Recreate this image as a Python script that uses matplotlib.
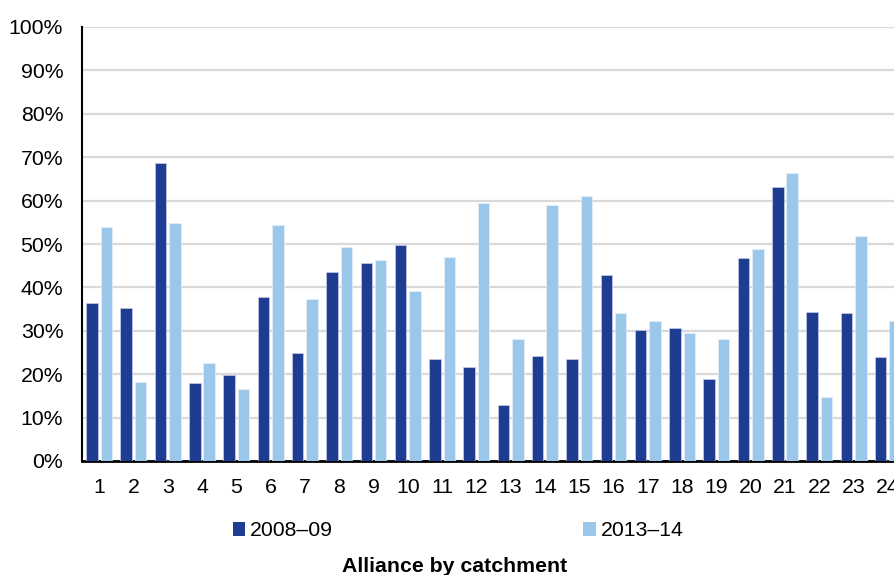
import numpy as np
import matplotlib.pyplot as plt
from matplotlib.patches import Patch

plt.rcParams['font.family'] = ['Liberation Sans', 'DejaVu Sans']

# Share of alliance by catchment, two periods
catchments = [str(i) for i in range(1, 25)]
share_0809 = [36.4, 35.3, 68.6, 17.9, 19.8, 37.8, 24.9, 43.5, 45.6, 49.7, 23.4, 21.7,
              13.0, 24.3, 23.5, 42.8, 30.2, 30.6, 19.0, 46.7, 63.1, 34.3, 34.0, 24.0]
share_1314 = [54.0, 18.2, 54.8, 22.5, 16.7, 54.3, 37.4, 49.3, 46.2, 39.2, 47.0, 59.5,
              28.1, 58.9, 61.1, 34.0, 32.3, 29.6, 28.0, 48.8, 66.3, 14.8, 51.8, 32.2]
series_labels = ['2008\u201309', '2013\u201314']

dark = '#1F3C93'
light = '#9BC8EA'
fs = 15.3

fig = plt.figure(figsize=(8.94, 5.75), dpi=100)
ax = fig.add_axes([82 / 894, 114 / 575, 823 / 894, 434 / 575])

x = np.arange(1, len(catchments) + 1)
w = 0.335
off = 0.21
ax.bar(x - off, share_0809, width=w, color=dark, edgecolor='#c8d0e6', linewidth=0.5, zorder=3)
ax.bar(x + off, share_1314, width=w, color=light, edgecolor='#e6f1fa', linewidth=0.5, zorder=3)

ax.set_xlim(0.5, 24.5)
ax.set_ylim(0, 100)
ax.set_yticks(range(0, 101, 10))
ax.set_yticklabels([f'{v}%' for v in range(0, 101, 10)])
ax.set_xticks(x)
ax.set_xticklabels(catchments)
ax.tick_params(axis='both', length=0, labelsize=fs)
ax.tick_params(axis='y', pad=13.5)
ax.tick_params(axis='x', pad=12)

ax.grid(axis='y', color='#D9D9D9', linewidth=1.6, zorder=0)
ax.set_axisbelow(True)
for s in ['top', 'right']:
    ax.spines[s].set_visible(False)
ax.spines['left'].set_linewidth(1.5)
ax.spines['bottom'].set_linewidth(2)
ax.spines['left'].set_color('black')
ax.spines['bottom'].set_color('black')

handles = [Patch(facecolor=dark, edgecolor='none'), Patch(facecolor=light, edgecolor='none')]
fig.legend(handles, series_labels, loc='center', bbox_to_anchor=(458 / 894, 1 - 531 / 575),
           ncol=2, frameon=False, fontsize=fs, handlelength=0.6, handleheight=0.6,
           handletextpad=0.2, columnspacing=11.8)

fig.text(455 / 894, 1 - 566 / 575, 'Alliance by catchment', ha='center', va='center',
         fontsize=fs, fontweight='bold')

fig.savefig('out.png', dpi=100)
